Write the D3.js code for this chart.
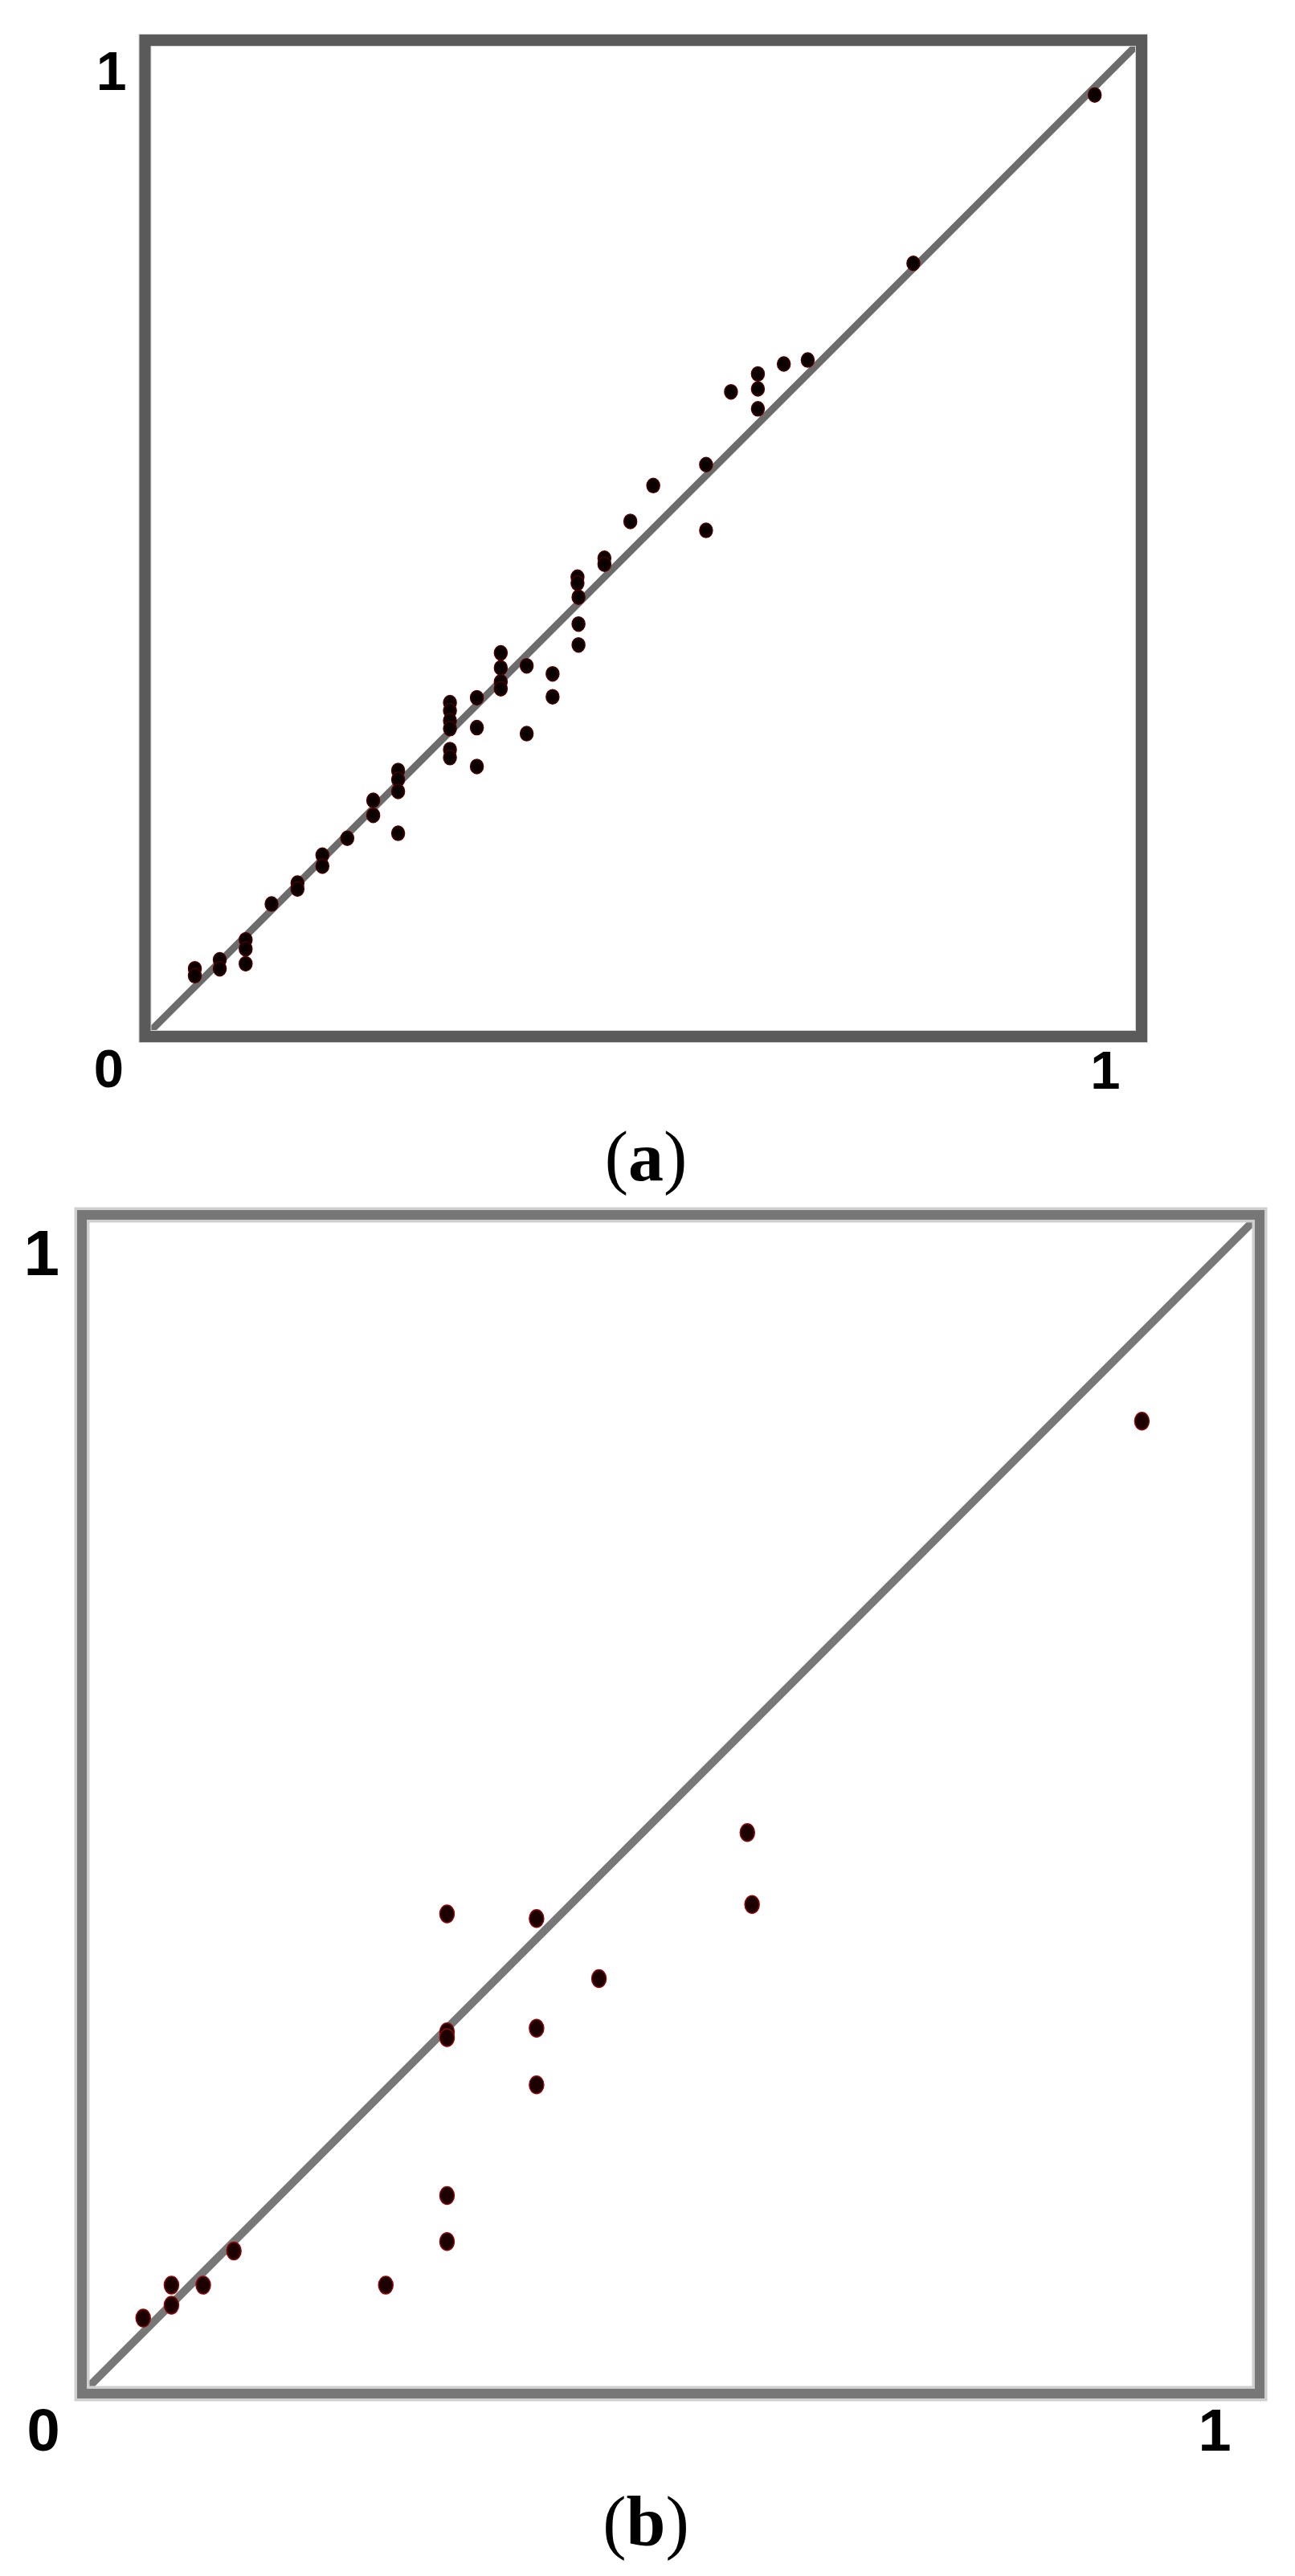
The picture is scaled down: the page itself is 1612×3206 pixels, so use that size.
<!DOCTYPE html>
<html>
<head>
<meta charset="utf-8">
<script src="https://cdn.jsdelivr.net/npm/d3@7"></script>
<style>
  body { margin: 0; background: #fff; }
  svg { display: block; }
</style>
</head>
<body>
<div id="chart"></div>
<script>
var width = 1612, height = 3206;

// valeurs (a) : abscisse / ordonnee, axe 0..1
var xA = [0.953, 0.771, 0.665, 0.641, 0.615, 0.615, 0.615, 0.588, 0.563, 0.510, 0.487, 0.563,
          0.461, 0.461, 0.434, 0.434, 0.435, 0.435, 0.435, 0.357, 0.357, 0.357, 0.357, 0.383,
          0.409, 0.409, 0.383, 0.333, 0.333, 0.333, 0.306, 0.306, 0.306, 0.306, 0.306, 0.306,
          0.254, 0.254, 0.254, 0.254, 0.229, 0.229, 0.203, 0.178, 0.178, 0.153, 0.153, 0.127,
          0.101, 0.101, 0.101, 0.075, 0.075, 0.050, 0.050];
var yA = [0.945, 0.776, 0.679, 0.675, 0.665, 0.650, 0.630, 0.647, 0.574, 0.553, 0.517, 0.508,
          0.480, 0.474, 0.461, 0.455, 0.441, 0.414, 0.393, 0.385, 0.370, 0.356, 0.349, 0.372,
          0.364, 0.341, 0.304, 0.340, 0.310, 0.271, 0.335, 0.327, 0.317, 0.309, 0.288, 0.280,
          0.267, 0.258, 0.246, 0.204, 0.237, 0.222, 0.199, 0.182, 0.171, 0.154, 0.148, 0.133,
          0.097, 0.088, 0.073, 0.077, 0.068, 0.068, 0.061];

// valeurs (b)
var xB = [0.900, 0.565, 0.569, 0.310, 0.386, 0.439, 0.386, 0.310, 0.310, 0.386, 0.310, 0.310,
          0.258, 0.129, 0.103, 0.076, 0.076, 0.052];
var yB = [0.825, 0.476, 0.415, 0.407, 0.403, 0.352, 0.310, 0.307, 0.302, 0.262, 0.168, 0.129,
          0.092, 0.121, 0.092, 0.092, 0.075, 0.064];

var ticks = [0, 1];
var captions = ["a", "b"];

var svg = d3.select("#chart").append("svg")
  .attr("width", width).attr("height", height)
  .style("background", "#fff");

// panneaux : position du cadre (centre du trait)
var panels = [
  { x: xA, y: yA, left: 180.5, right: 1421, top: 50, bottom: 1290,
    frame: "#5a5a5a", frameW: 14, halo: "#d6d6d6", haloW: 16, diag: "#6c6c6c", diagW: 9,
    rx: 8, ry: 9, dotFill: "#0a0000", dotStroke: "#4a0000",
    fs: 67, fsTop: 68, topDx: -23, topDy: 62, zeroDx: -45, zeroDy: 63, oneDx: -45, oneDy: 65,
    capY: 1469 },
  { x: xB, y: yB, left: 102, right: 1568, top: 1512, bottom: 2979,
    frame: "#777777", frameW: 12, halo: "#cfcfcf", haloW: 19, diag: "#787878", diagW: 10,
    rx: 9, ry: 11, dotFill: "#1c0000", dotStroke: "#8a0a0a",
    fs: 74, fsTop: 80, topDx: -28, topDy: 75, zeroDx: -48, zeroDy: 71, oneDx: -56, oneDy: 71,
    capY: 3168 }
];

panels.forEach(function(p, i) {
  var sx = d3.scaleLinear().domain([0, 1]).range([p.left, p.right]);
  var sy = d3.scaleLinear().domain([0, 1]).range([p.bottom, p.top]);
  var g = svg.append("g");

  // diagonale y = x
  g.append("line")
    .attr("x1", sx(0)).attr("y1", sy(0))
    .attr("x2", sx(1)).attr("y2", sy(1))
    .attr("stroke", p.diag).attr("stroke-width", p.diagW);

  // cadre
  g.append("rect")
    .attr("x", sx(0)).attr("y", sy(1))
    .attr("width", sx(1) - sx(0)).attr("height", sy(0) - sy(1))
    .attr("fill", "none").attr("stroke", p.halo).attr("stroke-width", p.haloW);
  g.append("rect")
    .attr("x", sx(0)).attr("y", sy(1))
    .attr("width", sx(1) - sx(0)).attr("height", sy(0) - sy(1))
    .attr("fill", "none").attr("stroke", p.frame).attr("stroke-width", p.frameW);

  // points
  g.selectAll("ellipse.pt").data(d3.range(p.x.length)).enter()
    .append("ellipse").attr("class", "pt")
    .attr("cx", function(k) { return sx(p.x[k]); })
    .attr("cy", function(k) { return sy(p.y[k]); })
    .attr("rx", p.rx).attr("ry", p.ry)
    .attr("fill", p.dotFill).attr("stroke", p.dotStroke).attr("stroke-width", 1.5);

  // etiquettes 0 et 1
  var lab = g.append("g").attr("font-family", "'Liberation Sans', Arial, sans-serif")
    .attr("font-weight", "bold").attr("fill", "#000");
  lab.append("text").attr("text-anchor", "end")
    .attr("x", sx(ticks[0]) + p.topDx).attr("y", sy(ticks[1]) + p.topDy)
    .attr("font-size", p.fsTop).text(ticks[1]);
  lab.append("text").attr("text-anchor", "middle")
    .attr("x", sx(ticks[0]) + p.zeroDx).attr("y", sy(ticks[0]) + p.zeroDy)
    .attr("font-size", p.fs).text(ticks[0]);
  lab.append("text").attr("text-anchor", "middle")
    .attr("x", sx(ticks[1]) + p.oneDx).attr("y", sy(ticks[0]) + p.oneDy)
    .attr("font-size", p.fs).text(ticks[1]);

  // legende (a) / (b)
  var cap = svg.append("text")
    .attr("x", 804).attr("y", p.capY)
    .attr("text-anchor", "middle")
    .attr("font-family", "'Liberation Serif', 'Times New Roman', serif")
    .attr("font-size", 88).attr("fill", "#000");
  cap.append("tspan").text("(");
  cap.append("tspan").attr("font-weight", "bold").text(captions[i]);
  cap.append("tspan").text(")");
});
</script>
</body>
</html>
